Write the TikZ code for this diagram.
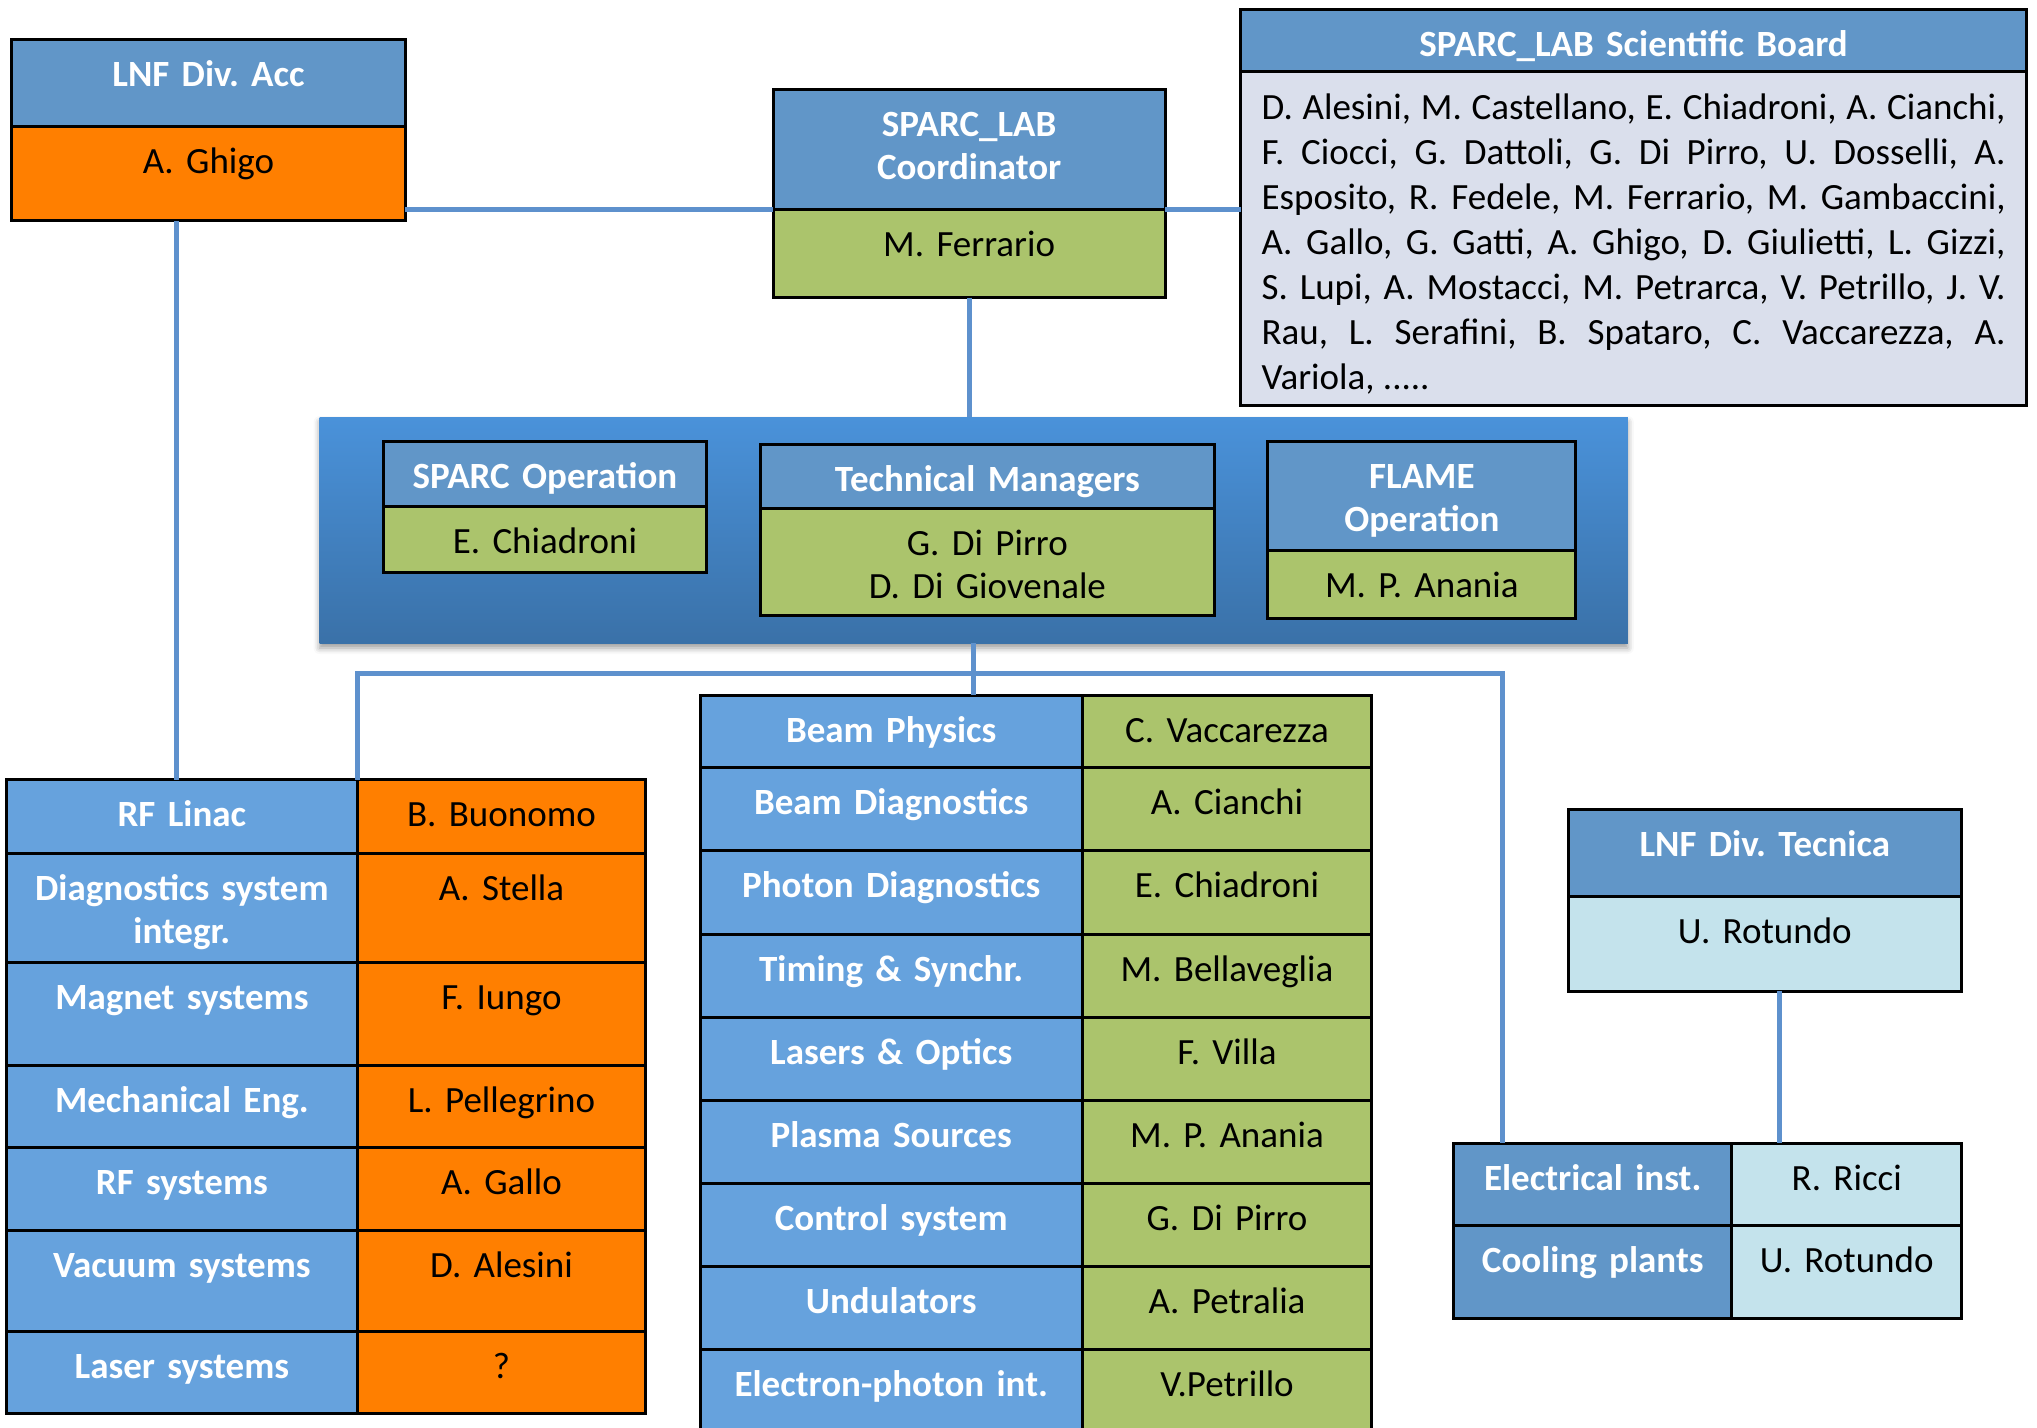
\documentclass[tikz,border=0pt]{standalone}
\usepackage{fontspec}
\setmainfont{Carlito}
\usepackage{tikz}
\usetikzlibrary{positioning}
\usetikzlibrary{shadows.blur}
\definecolor{headblue}{RGB}{97,150,200}
\definecolor{cellblue}{RGB}{102,162,221}
\definecolor{accorange}{RGB}{255,127,0}
\definecolor{sparcgreen}{RGB}{171,196,108}
\definecolor{tecncyan}{RGB}{196,227,236}
\definecolor{boardgray}{RGB}{218,223,236}
\definecolor{bandtop}{RGB}{74,146,218}
\definecolor{bandbot}{RGB}{58,113,168}
\definecolor{linkblue}{RGB}{94,145,205}

\begin{document}
\begin{tikzpicture}[x=1pt,y=-1pt,
  box/.style={rectangle,draw=black,line width=3pt,inner sep=0pt,outer sep=0pt,
    anchor=north west,align=center,text height=47pt,
    font=\fontsize{37}{43}\selectfont\frenchspacing},
  sz/.code 2 args={\pgfmathsetlengthmacro\celldp{#2-47}%
    \pgfkeysalso{text width=#1pt,text depth/.expanded=\celldp}},
  head/.style={box,fill=headblue,text=white,font=\fontsize{37}{43}\selectfont\frenchspacing\bfseries},
  unit/.style={box,fill=cellblue,text=white,font=\fontsize{37}{43}\selectfont\frenchspacing\bfseries},
  acc/.style={box,fill=accorange},
  sparc/.style={box,fill=sparcgreen},
  tecn/.style={box,fill=tecncyan},
  link/.style={draw=linkblue,line width=5pt}]

  \useasboundingbox (0,0) rectangle (2037,1427);
  \clip (0,0) rectangle (2037,1427);

  % top level
  \node[head,sz={393.6}{87}] (acch) at (11.7,39) {LNF Div. Acc};
  \node[acc,sz={393.6}{94.8}] (accn) at (acch.south west) {A. Ghigo};
  \node[head,sz={392.3}{119.6}] (coordh) at (773,89.6) {SPARC\_LAB\\Coordinator};
  \node[sparc,sz={392.3}{88.3}] (coordn) at (coordh.south west) {M. Ferrario};
  \node[head,sz={786}{62.4}] (boardh) at (1240.6,9.1) {SPARC\_LAB Scientific Board};
  \node[box,fill=boardgray,sz={744}{332.5},inner xsep=21pt,align=justify,
    text height=48pt,font=\fontsize{37}{45}\selectfont\frenchspacing] (boardb) at (boardh.south west)
    {D. Alesini, M. Castellano, E. Chiadroni, A. Cianchi,\linebreak
     F. Ciocci, G. Dattoli, G. Di Pirro, U. Dosselli, A.\linebreak
     Esposito, R. Fedele, M. Ferrario, M. Gambaccini,\linebreak
     A. Gallo, G. Gatti, A. Ghigo, D. Giulietti, L. Gizzi,\linebreak
     S. Lupi, A. Mostacci, M. Petrarca, V. Petrillo, J. V.\linebreak
     Rau, L. Serafini, B. Spataro, C. Vaccarezza, A.\linebreak
     Variola, .....};

  % management band
  \node[rectangle,top color=bandtop,bottom color=bandbot,anchor=north west,inner sep=0pt,
    outer sep=0pt,minimum width=1308.2pt,minimum height=226pt,
    blur shadow={shadow xshift=0pt,shadow yshift=-5pt,shadow blur radius=6pt}] (band) at (319.6,417) {};
  \node[head,sz={323.5}{64.9}] (oph) at (383.2,441.7) {SPARC Operation};
  \node[sparc,sz={323.5}{66.3}] (opn) at (oph.south west) {E. Chiadroni};
  \node[head,sz={454.7}{63.7}] (mgrh) at (760,444.3) {Technical Managers};
  \node[sparc,sz={454.7}{107.8}] (mgrn) at (mgrh.south west) {G. Di Pirro\\D. Di Giovenale};
  \node[head,sz={307.9}{109.1}] (flameh) at (1267.9,441.7) {FLAME\\Operation};
  \node[sparc,sz={307.9}{67.6}] (flamen) at (flameh.south west) {M. P. Anania};

  % LNF Div. Acc table
  \node[unit,sz={350.8}{74}] (rf) at (6.5,779.5) {RF Linac};
  \node[acc,sz={288.4}{74}] (rfn) at (rf.north east) {B. Buonomo};
  \node[unit,sz={350.8}{109.1}] (diag) at (rf.south west) {Diagnostics system\\integr.};
  \node[acc,sz={288.4}{109.1}] (diagn) at (diag.north east) {A. Stella};
  \node[unit,sz={350.8}{102.7}] (mag) at (diag.south west) {Magnet systems};
  \node[acc,sz={288.4}{102.7}] (magn) at (mag.north east) {F. Iungo};
  \node[unit,sz={350.8}{81.8}] (mech) at (mag.south west) {Mechanical Eng.};
  \node[acc,sz={288.4}{81.8}] (mechn) at (mech.north east) {L. Pellegrino};
  \node[unit,sz={350.8}{83.2}] (rfs) at (mech.south west) {RF systems};
  \node[acc,sz={288.4}{83.2}] (rfsn) at (rfs.north east) {A. Gallo};
  \node[unit,sz={350.8}{101.3}] (vac) at (rfs.south west) {Vacuum systems};
  \node[acc,sz={288.4}{101.3}] (vacn) at (vac.north east) {D. Alesini};
  \node[unit,sz={350.8}{81.8}] (las) at (vac.south west) {Laser systems};
  \node[acc,sz={288.4}{81.8}] (lasn) at (las.north east) {?};

  % SPARC_LAB table
  \node[unit,sz={382}{72.8}] (bp) at (700.2,695) {Beam Physics};
  \node[sparc,sz={289.6}{72.8}] (bpn) at (bp.north east) {C. Vaccarezza};
  \node[unit,sz={382}{83.1}] (bd) at (bp.south west) {Beam Diagnostics};
  \node[sparc,sz={289.6}{83.1}] (bdn) at (bd.north east) {A. Cianchi};
  \node[unit,sz={382}{83.1}] (pd) at (bd.south west) {Photon Diagnostics};
  \node[sparc,sz={289.6}{83.1}] (pdn) at (pd.north east) {E. Chiadroni};
  \node[unit,sz={382}{83.1}] (ts) at (pd.south west) {Timing \& Synchr.};
  \node[sparc,sz={289.6}{83.1}] (tsn) at (ts.north east) {M. Bellaveglia};
  \node[unit,sz={382}{83.1}] (lo) at (ts.south west) {Lasers \& Optics};
  \node[sparc,sz={289.6}{83.1}] (lon) at (lo.north east) {F. Villa};
  \node[unit,sz={382}{83.1}] (ps) at (lo.south west) {Plasma Sources};
  \node[sparc,sz={289.6}{83.1}] (psn) at (ps.north east) {M. P. Anania};
  \node[unit,sz={382}{83.1}] (cs) at (ps.south west) {Control system};
  \node[sparc,sz={289.6}{83.1}] (csn) at (cs.north east) {G. Di Pirro};
  \node[unit,sz={382}{83.1}] (und) at (cs.south west) {Undulators};
  \node[sparc,sz={289.6}{83.1}] (undn) at (und.north east) {A. Petralia};
  \node[unit,sz={382}{83.1}] (ep) at (und.south west) {Electron-photon int.};
  \node[sparc,sz={289.6}{83.1}] (epn) at (ep.north east) {V.Petrillo};

  % LNF Div. Tecnica
  \node[head,sz={393.6}{87.1}] (tecnh) at (1568,809.3) {LNF Div. Tecnica};
  \node[tecn,sz={393.6}{94.8}] (tecnn) at (tecnh.south west) {U. Rotundo};
  \node[head,sz={278}{81.8}] (elec) at (1453.7,1143.2) {Electrical inst.};
  \node[tecn,sz={229.9}{81.8}] (elecn) at (elec.north east) {R. Ricci};
  \node[head,sz={278}{93.6}] (cool) at (elec.south west) {Cooling plants};
  \node[tecn,sz={229.9}{93.6}] (cooln) at (cool.north east) {U. Rotundo};

  % connectors
  \coordinate (split) at ([yshift=-30pt]band.south);
  \path[every edge/.style={link}]
    (accn.east |- coordh.south west) edge (coordh.south west)
    (coordh.south east) edge (coordh.south east -| boardb.west)
    (coordn.south) edge (coordn.south |- band.north)
    (band.south) edge (band.south |- bp.north)
    ([xshift=-5pt]accn.south -| rf.north) edge ([xshift=-5pt]rf.north)
    ([xshift=15pt]tecnn.south) edge ([xshift=15pt]tecnn.south |- elecn.north);
  \draw[link] (rf.north east) |- (split) -| ([xshift=49pt]elec.north west);
\end{tikzpicture}
\end{document}
